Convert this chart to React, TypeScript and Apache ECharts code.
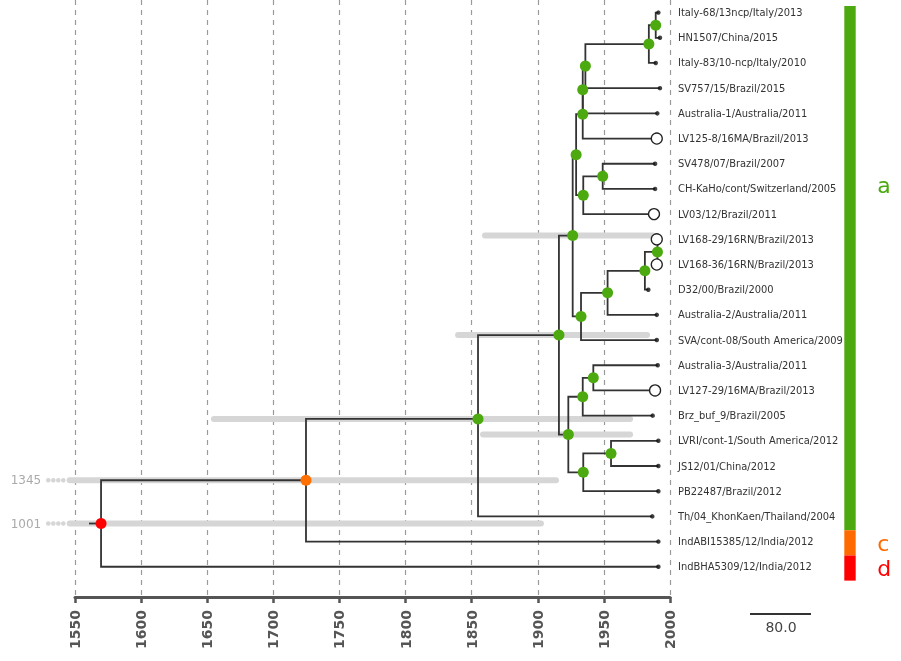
import React, { useEffect, useRef } from "react";
import * as echarts from "echarts";

// ---------- DATA ----------
const tipNames = [
  "Italy-68/13ncp/Italy/2013",
  "HN1507/China/2015",
  "Italy-83/10-ncp/Italy/2010",
  "SV757/15/Brazil/2015",
  "Australia-1/Australia/2011",
  "LV125-8/16MA/Brazil/2013",
  "SV478/07/Brazil/2007",
  "CH-KaHo/cont/Switzerland/2005",
  "LV03/12/Brazil/2011",
  "LV168-29/16RN/Brazil/2013",
  "LV168-36/16RN/Brazil/2013",
  "D32/00/Brazil/2000",
  "Australia-2/Australia/2011",
  "SVA/cont-08/South America/2009",
  "Australia-3/Australia/2011",
  "LV127-29/16MA/Brazil/2013",
  "Brz_buf_9/Brazil/2005",
  "LVRI/cont-1/South America/2012",
  "JS12/01/China/2012",
  "PB22487/Brazil/2012",
  "Th/04_KhonKaen/Thailand/2004",
  "IndABI15385/12/India/2012",
  "IndBHA5309/12/India/2012",
];
const tipYears = [
  1991.2, 1992.4, 1989.2, 1992.4, 1990.4, 1990.0, 1988.7, 1988.7, 1987.9, 1990.0,
  1990.0, 1983.6, 1990.0, 1990.0, 1990.7, 1988.7, 1986.9, 1991.2, 1991.2, 1991.2,
  1986.6, 1991.2, 1991.2,
];
const openTips = [5, 8, 9, 10, 15];

const nodeIds = ["N0", "N1", "T", "S", "Q", "SC", "R", "P", "Y", "X", "W", "V", "U", "DD", "BB", "EE", "CC", "AA", "Z", "FF", "GG", "ROOT"];
const nodeYears = [1989.2, 1984.0, 1936.0, 1934.0, 1934.0, 1949.1, 1934.4, 1929.0, 1990.5, 1981.0, 1952.8, 1932.7, 1926.4, 1942.0, 1934.0, 1955.4, 1934.4, 1923.1, 1916.0, 1854.8, 1724.7, 1569.7];
const nodeChildren = [
  ["t0", "t1"], ["N0", "t2"], ["N1", "t3"], ["T", "t4"], ["S", "t5"], ["t6", "t7"], ["SC", "t8"],
  ["Q", "R"], ["t9", "t10"], ["Y", "t11"], ["X", "t12"], ["W", "t13"], ["P", "V"], ["t14", "t15"],
  ["DD", "t16"], ["t17", "t18"], ["EE", "t19"], ["BB", "CC"], ["U", "AA"], ["Z", "t20"], ["FF", "t21"], ["GG", "t22"],
];
const nodeYOverride: Record<string, number> = { FF: 16.13 };
const nodeClade: Record<string, number> = { GG: 1, ROOT: 2 };
const rootStubYear = 1560.6;

const hpdNodes = ["U", "Z", "FF", "AA", "GG", "ROOT"];
const hpdLow = [1860.1, 1839.7, 1655.1, 1858.6, 1345, 1001];
const hpdHigh = [1987.2, 1982.6, 1969.8, 1969.8, 1913.8, 1902.4];

const cladeLabels = ["a", "c", "d"];
const cladeFrom = [-0.26, 20.55, 21.55];
const cladeTo = [20.55, 21.55, 22.55];
const cladeLabelAt = [6.88, 21.06, 22.05];

const X_MIN = 1550;
const X_MAX = 2000;
const X_STEP = 50;
const scaleBarLabel = "80.0";

// ---------- STYLE ----------
const CLADE_COLORS = ["#4caa10", "#ff6a00", "#ff0000"];
const NODE_COLORS = ["#4caa10", "#ff7000", "#ff0000"];
const FONT = "'DejaVu Sans', sans-serif";

export default function App() {
  const ref = useRef<HTMLDivElement>(null);

  useEffect(() => {
    if (!ref.current) return;
    const chart = echarts.init(ref.current, null, { renderer: "svg" });

    const yOf: Record<string, number> = {};
    const xOf: Record<string, number> = {};
    tipNames.forEach((_, i) => {
      yOf["t" + i] = i;
      xOf["t" + i] = tipYears[i];
    });
    nodeIds.forEach((id, k) => {
      const ch = nodeChildren[k];
      yOf[id] = nodeYOverride[id] ?? (yOf[ch[0]] + yOf[ch[1]]) / 2;
      xOf[id] = nodeYears[k];
    });

    const edges: number[][] = [];
    nodeIds.forEach((id, k) => {
      nodeChildren[k].forEach((c) => edges.push([xOf[id], yOf[id], yOf[c], xOf[c]]));
    });
    edges.push([rootStubYear, yOf.ROOT, yOf.ROOT, xOf.ROOT]);

    const hpdData = hpdNodes.map((id, k) => [hpdLow[k], hpdHigh[k], yOf[id]]);
    const closedTips = tipNames.map((_, i) => i).filter((i) => !openTips.includes(i)).map((i) => [tipYears[i], i]);
    const openTipData = openTips.map((i) => [tipYears[i], i]);
    const nodeDots = nodeIds.map((id) => [xOf[id], yOf[id], nodeClade[id] ?? 0]);
    const cladeData = cladeLabels.map((_, k) => [cladeFrom[k], cladeTo[k], cladeLabelAt[k], k]);

    chart.setOption({
      animation: false,
      textStyle: { fontFamily: FONT },
      grid: { left: 75, right: 231, top: 0, bottom: 64, containLabel: false },
      xAxis: {
        type: "value",
        min: X_MIN,
        max: X_MAX,
        interval: X_STEP,
        position: "bottom",
        axisLine: { show: true, onZero: false, lineStyle: { color: "#555", width: 3 } },
        axisTick: { show: true, length: 6, lineStyle: { color: "#555", width: 2.5 } },
        axisLabel: {
          rotate: 90,
          fontWeight: "bold",
          fontSize: 14,
          color: "#555",
          margin: 13,
          fontFamily: FONT,
          formatter: (v: number) => String(v),
        },
        splitLine: { show: true, lineStyle: { color: "#9a9a9a", width: 1.2, type: [5, 5] } },
      },
      yAxis: {
        type: "value",
        inverse: true,
        min: -0.5,
        max: 23.2,
        position: "right",
        axisLine: { show: false },
        axisTick: { show: false },
        splitLine: { show: false },
        axisLabel: {
          customValues: tipNames.map((_, i) => i),
          formatter: (v: number) => tipNames[v] ?? "",
          margin: 8,
          fontSize: 11,
          color: "#333",
          fontFamily: "'DejaVu Sans Condensed', 'DejaVu Sans', sans-serif",
        },
      },
      series: [
        {
          type: "custom",
          name: "hpd",
          z: 1,
          clip: false,
          data: hpdData,
          renderItem: (params: any, api: any) => {
            const lo = api.value(0);
            const hi = api.value(1);
            const y = api.value(2);
            const trunc = lo < X_MIN;
            const a = api.coord([trunc ? X_MIN - 4 : lo, y]);
            const b = api.coord([hi, y]);
            const children: any[] = [
              { type: "line", shape: { x1: a[0], y1: a[1], x2: b[0], y2: b[1] }, style: { stroke: "#d6d6d6", lineWidth: 6, lineCap: "round" } },
            ];
            if (trunc) {
              [6.4, 11.4, 16.4, 21.4].forEach((d) =>
                children.push({ type: "circle", shape: { cx: a[0] - d, cy: a[1], r: 2.3 }, style: { fill: "#d6d6d6" } })
              );
              children.push({
                type: "text",
                x: a[0] - 28.5,
                y: a[1],
                style: { text: String(lo), fill: "#aaaaaa", fontSize: 12, fontFamily: FONT, align: "right", verticalAlign: "middle" },
              });
            }
            return { type: "group", children };
          },
        },
        {
          type: "custom",
          name: "branches",
          z: 2,
          data: edges,
          renderItem: (params: any, api: any) => {
            const p0 = api.coord([api.value(0), api.value(1)]);
            const p1 = api.coord([api.value(0), api.value(2)]);
            const p2 = api.coord([api.value(3), api.value(2)]);
            return {
              type: "polyline",
              shape: { points: [p0, p1, p2] },
              style: { stroke: "#333", lineWidth: 1.8, fill: "none" },
            };
          },
        },
        {
          type: "scatter",
          name: "tips",
          z: 3,
          symbol: "circle",
          symbolSize: 4.5,
          itemStyle: { color: "#111" },
          data: closedTips,
        },
        {
          type: "scatter",
          name: "openTips",
          z: 3,
          symbol: "circle",
          symbolSize: 11,
          itemStyle: { color: "#fff", borderColor: "#222", borderWidth: 1.3, opacity: 1 },
          data: openTipData,
        },
        {
          type: "scatter",
          name: "nodes",
          z: 4,
          symbol: "circle",
          symbolSize: 11,
          itemStyle: { color: (p: any) => NODE_COLORS[p.data[2]], opacity: 1 },
          data: nodeDots,
        },
        {
          type: "custom",
          name: "clades",
          z: 2,
          clip: false,
          data: cladeData,
          renderItem: (params: any, api: any) => {
            const top = api.coord([X_MAX, api.value(0)]);
            const bot = api.coord([X_MAX, api.value(1)]);
            const lab = api.coord([X_MAX, api.value(2)]);
            const k = api.value(3);
            const x0 = top[0] + 174.3;
            return {
              type: "group",
              children: [
                { type: "rect", shape: { x: x0, y: top[1], width: 11.4, height: bot[1] - top[1] }, style: { fill: CLADE_COLORS[k] } },
                {
                  type: "text",
                  x: x0 + 33,
                  y: lab[1],
                  style: { text: cladeLabels[k], fill: CLADE_COLORS[k], fontSize: 22, fontFamily: FONT, align: "left", verticalAlign: "middle" },
                },
              ],
            };
          },
        },
      ],
      graphic: [
        { type: "line", shape: { x1: 750, y1: 614, x2: 811, y2: 614 }, style: { stroke: "#333", lineWidth: 2 } },
        {
          type: "text",
          x: 781,
          y: 627,
          style: { text: scaleBarLabel, fill: "#444", fontSize: 14, fontFamily: FONT, align: "center", verticalAlign: "middle" },
        },
      ],
    });

    return () => chart.dispose();
  }, []);

  return <div ref={ref} style={{ position: "fixed", left: 0, top: 0, width: 901, height: 661 }} />;
}
